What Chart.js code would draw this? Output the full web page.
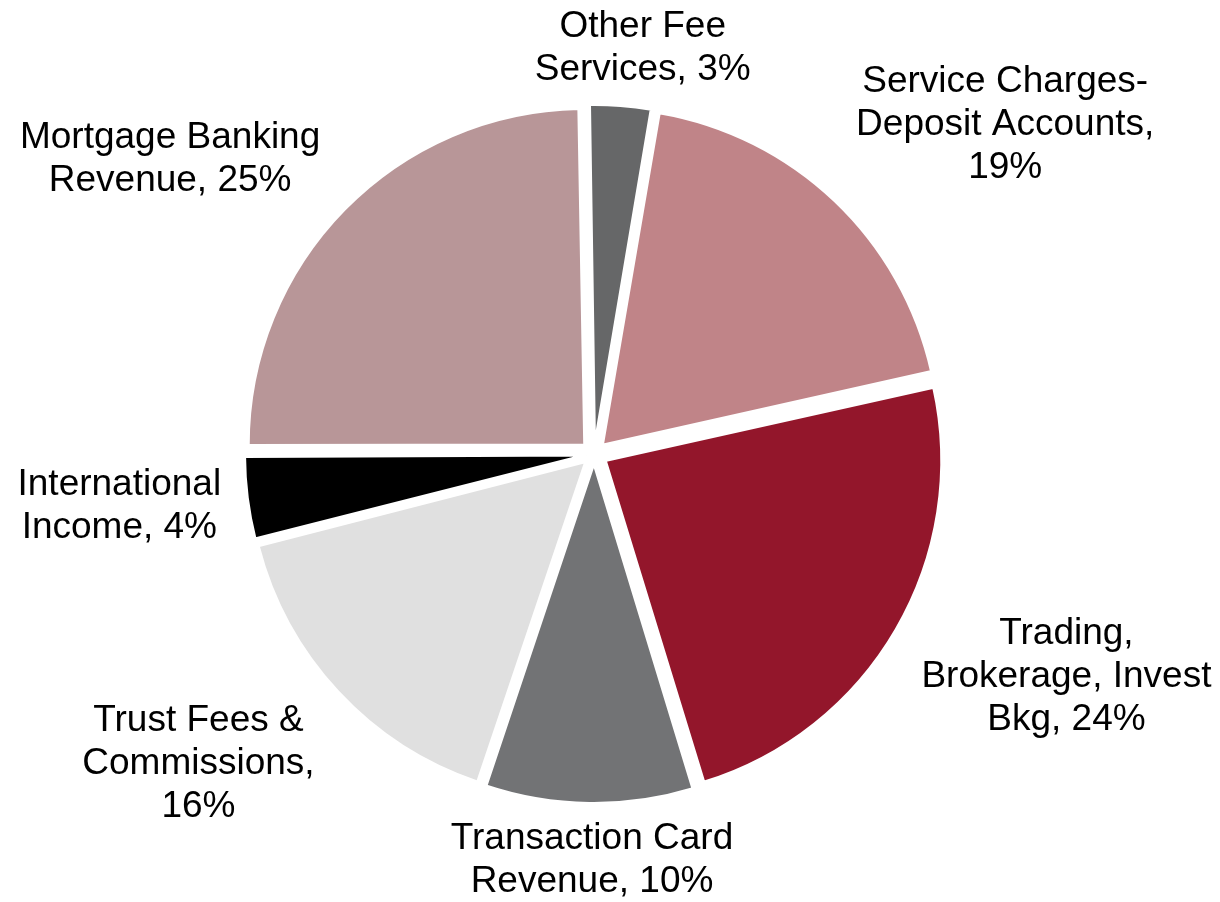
<!DOCTYPE html>
<html>
<head>
<meta charset="utf-8">
<script src="https://cdn.jsdelivr.net/npm/chart.js@4/dist/chart.umd.min.js"></script>
<style>
  html, body { margin: 0; padding: 0; background: #ffffff; }
  #wrap { width: 1220px; height: 902px; position: relative; }
</style>
</head>
<body>
<div id="wrap"><canvas id="c" width="1220" height="902"></canvas></div>
<script>
// ---- data ----
const categories = [
  "Other Fee Services",
  "Service Charges-Deposit Accounts",
  "Trading, Brokerage, Invest Bkg",
  "Transaction Card Revenue",
  "Trust Fees & Commissions",
  "International Income",
  "Mortgage Banking Revenue"
];
const values = [3, 19, 24, 10, 16, 4, 25];
const labelLines = [
  ["Other Fee", "Services, 3%"],
  ["Service Charges-", "Deposit Accounts,", "19%"],
  ["Trading,", "Brokerage, Invest", "Bkg, 24%"],
  ["Transaction Card", "Revenue, 10%"],
  ["Trust Fees &", "Commissions,", "16%"],
  ["International", "Income, 4%"],
  ["Mortgage Banking", "Revenue, 25%"]
];
const colors = ["#666768", "#C08488", "#93162B", "#727375", "#E0E0E0", "#000000", "#B89698"];

// ---- layout / style (not data) ----
const EXPLODE = 13;           // px each slice is pulled out
const labelAngleShift = [2.5, 7.8, -4.9, -0.5, 4.8, 1.0, -9.6];   // degrees
const labelDistance   = [72, 190, 186, 70, 166, 141, 180];        // px beyond radius
const LINE_H = 43;
const FONT = '37px "Liberation Sans", Arial, sans-serif';

const total = values.reduce((a, b) => a + b, 0);

const labelPlugin = {
  id: 'sliceLabels',
  afterDatasetsDraw(chart) {
    const ctx = chart.ctx;
    const meta = chart.getDatasetMeta(0);
    ctx.save();
    ctx.font = FONT;
    ctx.fillStyle = '#000000';
    ctx.textAlign = 'center';
    ctx.textBaseline = 'middle';
    meta.data.forEach((arc, i) => {
      const p = arc.getProps(['x', 'y', 'startAngle', 'endAngle', 'outerRadius'], true);
      const mid = (p.startAngle + p.endAngle) / 2 + labelAngleShift[i] * Math.PI / 180;
      const dist = p.outerRadius + labelDistance[i];
      const ax = p.x + Math.cos(mid) * dist;
      const ay = p.y + Math.sin(mid) * dist;
      const lines = labelLines[i];
      lines.forEach((ln, j) => {
        ctx.fillText(ln, ax, ay + (j - (lines.length - 1) / 2) * LINE_H);
      });
    });
    ctx.restore();
  }
};

new Chart(document.getElementById('c'), {
  type: 'pie',
  data: {
    labels: categories,
    datasets: [{
      data: values,
      backgroundColor: colors,
      borderColor: '#ffffff',
      borderWidth: 3,
      hoverOffset: 0,
      offset: (c) => {
        const circ = c.raw / total * Math.PI * 2;
        const fix = 1 - Math.sin(Math.min(Math.PI, circ));
        return 4 * EXPLODE / (1 + fix);
      }
    }]
  },
  options: {
    responsive: false,
    animation: false,
    events: [],
    rotation: -1,
    radius: 336.5,
    layout: { padding: { left: 0, right: 32, top: 6, bottom: 0 } },
    plugins: {
      legend: { display: false },
      tooltip: { enabled: false }
    }
  },
  plugins: [labelPlugin]
});
</script>
</body>
</html>
